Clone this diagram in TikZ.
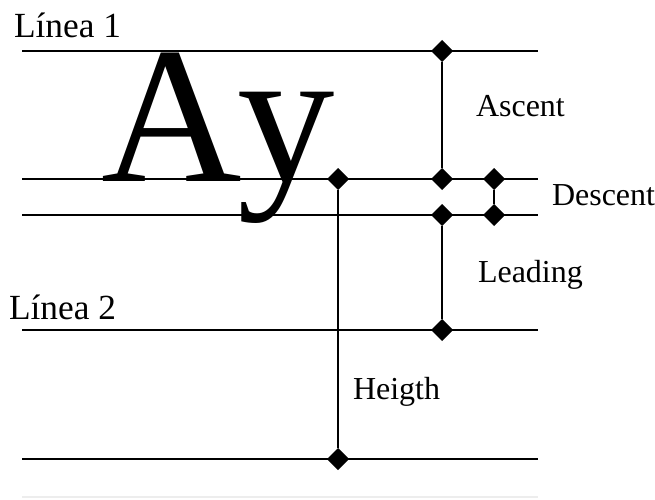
\documentclass[tikz,border=0pt]{standalone}
\usepackage{fontspec}
\setmainfont{Liberation Serif}
\usetikzlibrary{shapes.geometric}

\begin{document}
\begin{tikzpicture}[x=0.75pt, y=-0.75pt, line width=1.5pt,
    tick/.style={draw, fill, diamond, inner sep=0pt, minimum size=15pt},
    lbl/.style={anchor=base west, inner sep=0pt, font=\fontsize{24}{28}\selectfont}]

            \useasboundingbox (0,0) rectangle (655,499);

            % Guide lines
            \coordinate (topw) at (22,51);   \coordinate (tope) at (538,51);
            \coordinate (basew) at (22,179); \coordinate (basee) at (538,179);
            \coordinate (descw) at (22,215); \coordinate (desce) at (538,215);
            \coordinate (twow) at (22,330);  \coordinate (twoe) at (538,330);
            \coordinate (botw) at (22,459);  \coordinate (bote) at (538,459);
            \coordinate (edgew) at (22,497); \coordinate (edgee) at (538,497);

            \draw (topw) -- (tope);
            \draw (basew) -- (basee);
            \draw (descw) -- (desce);
            \draw (twow) -- (twoe);
            \draw (botw) -- (bote);
            \draw[black!7, line width=1pt] (edgew) -- (edgee);

            \node[anchor=base west, inner sep=0pt, font=\fontsize{146}{150}\selectfont\addfontfeatures{Kerning=Off}] (ay) at (100,181) {A\kern-3pt y};

            \node[lbl, font=\fontsize{26.5}{30}\selectfont] (linea1) at (13,38) {Línea 1};
            \node[lbl, font=\fontsize{26.5}{30}\selectfont] (linea2) at (8,319) {Línea 2};

            % Markers
            \node[tick] (asctop) at (442,51) {};
            \node[tick] (ascbot) at (442,179) {};
            \node[tick] (desctop) at (494,179) {};
            \node[tick] (descbot) at (494,215) {};
            \node[tick] (leadtop) at (442,215) {};
            \node[tick] (leadbot) at (442,330) {};
            \node[tick] (htop) at (338,179) {};
            \node[tick] (hbot) at (338,459) {};

            % Connections: metric spans
            \draw (asctop) -- (ascbot);
            \draw (desctop) -- (descbot);
            \draw (leadtop) -- (leadbot);
            \draw (htop) -- (hbot);

            \node[lbl] (ascent) at (475,117) {Ascent};
            \node[lbl] (descent) at (551,205) {Descent};
            \node[lbl] (leading) at (477,282) {Leading};
            \node[lbl] (heigth) at (352,399) {Heigth};

        \end{tikzpicture}
\end{document}
